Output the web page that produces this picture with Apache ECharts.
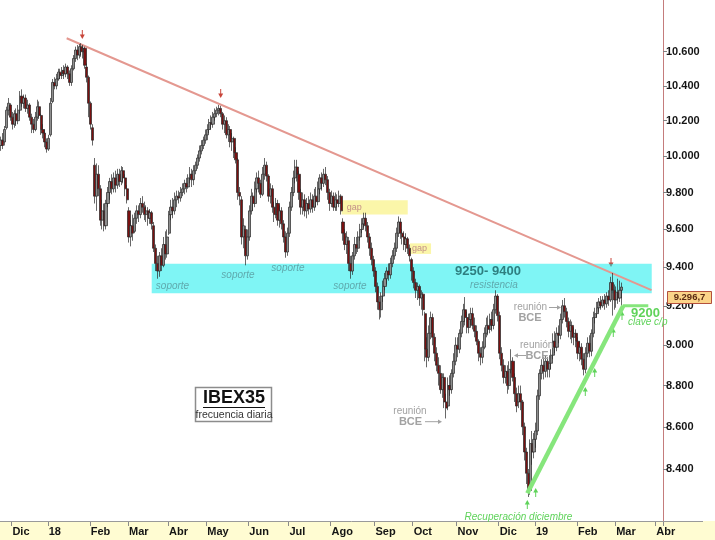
<!DOCTYPE html>
<html><head><meta charset="utf-8">
<script src="https://cdn.jsdelivr.net/npm/echarts@6/dist/echarts.min.js"></script>
<style>html,body{margin:0;padding:0;background:#fff}#c{width:715px;height:540px}</style>
</head><body><div id="c"></div>
<script>
// ---- data ----
const startDate = '2017-11-23';
const endDate = '2019-04-04';
const holidays = ['2017-12-25','2017-12-26','2018-01-01','2018-03-30','2018-04-02','2018-05-01','2018-12-25','2018-12-26','2019-01-01'];
const monthLabels = ['Dic','18','Feb','Mar','Abr','May','Jun','Jul','Ago','Sep','Oct','Nov','Dic','19','Feb','Mar','Abr'];
const yTicks = [8400,8600,8800,9000,9200,9400,9600,9800,10000,10200,10400,10600];
const lastPrice = 9296.7;
// daily candles: [open, close, low, high]
const ohlc = [
[10060,10090,10030,10110],[10090,10060,10040,10130],[10080,10150,10060,10170],[10160,10260,10150,10280],[10260,10300,10230,10330],[10290,10220,10200,10300],
[10220,10180,10150,10250],[10180,10240,10160,10260],[10240,10200,10170,10270],[10200,10260,10180,10290],[10260,10340,10240,10370],[10340,10300,10280,10380],
[10300,10330,10270,10350],[10330,10270,10250,10350],[10270,10290,10240,10320],[10290,10220,10200,10300],[10220,10180,10130,10240],[10180,10150,10130,10210],
[10150,10220,10140,10250],[10220,10280,10200,10320],[10280,10230,10210,10310],[10230,10150,10120,10240],[10150,10130,10100,10180],[10130,10080,10050,10150],
[10080,10040,10020,10100],
[10040,10100,10030,10120],[10120,10300,10110,10330],[10310,10420,10300,10440],[10420,10400,10380,10450],[10400,10440,10380,10470],[10440,10480,10430,10500],
[10480,10460,10440,10500],[10460,10490,10440,10510],[10490,10470,10440,10520],[10470,10510,10450,10530],[10510,10470,10440,10520],[10470,10420,10400,10490],
[10420,10500,10400,10520],[10500,10560,10490,10580],[10560,10610,10540,10630],[10610,10580,10550,10640],[10580,10630,10560,10645],[10630,10600,10570,10650],
[10600,10620,10560,10640],[10620,10520,10500,10630],[10510,10450,10420,10530],[10450,10300,10220,10460],
[10300,10180,10150,10310],[10160,10090,10060,10180],[9950,9780,9740,9990],[9780,9900,9700,9960],[9900,9820,9780,9950],[9820,9650,9620,9840],
[9650,9700,9600,9760],[9700,9620,9590,9740],[9620,9740,9600,9760],[9740,9800,9720,9830],[9800,9860,9760,9880],[9860,9820,9790,9900],
[9820,9880,9800,9910],[9880,9840,9800,9920],[9840,9900,9820,9930],[9900,9860,9830,9930],[9860,9920,9840,9945],[9920,9880,9850,9940],
[9880,9820,9780,9900],[9820,9760,9740,9840],
[9700,9560,9530,9720],[9560,9620,9510,9650],[9620,9580,9540,9680],[9590,9660,9580,9690],[9660,9700,9630,9730],[9700,9680,9640,9730],
[9680,9740,9660,9770],[9740,9720,9690,9780],[9720,9680,9650,9750],[9680,9700,9640,9730],[9700,9660,9620,9720],[9660,9690,9630,9710],
[9690,9630,9600,9700],[9620,9500,9480,9640],[9500,9420,9380,9520],[9420,9380,9340,9460],[9380,9460,9350,9480],[9460,9410,9380,9500],
[9410,9520,9400,9560],[9520,9470,9440,9590],[9470,9560,9450,9600],
[9580,9680,9570,9700],[9680,9720,9650,9760],[9720,9700,9660,9770],[9700,9760,9680,9800],[9760,9780,9720,9810],[9780,9770,9740,9810],
[9770,9800,9750,9830],[9800,9820,9780,9850],[9820,9850,9790,9870],[9850,9830,9800,9880],[9830,9880,9820,9900],[9880,9900,9850,9940],
[9900,9870,9830,9930],[9870,9920,9840,9950],[9920,9950,9900,9970],[9950,9990,9930,10010],[9990,10030,9970,10060],[10030,10060,10010,10090],
[10060,10090,10040,10110],[10090,10120,10070,10150],
[10120,10150,10090,10180],[10150,10190,10130,10210],[10190,10180,10150,10230],[10180,10220,10160,10250],[10220,10240,10200,10270],[10240,10260,10220,10280],
[10260,10270,10230,10290],[10270,10240,10220,10285],[10240,10180,10150,10250],[10180,10200,10130,10230],[10200,10120,10100,10220],[10120,10150,10080,10180],
[10150,10080,10050,10170],[10080,10100,10030,10130],[10100,10020,9990,10110],[10020,9980,9960,10050],[9980,9800,9760,9990],[9800,9780,9730,9830],
[9760,9560,9520,9780],[9560,9620,9500,9660],[9600,9460,9410,9620],[9460,9560,9440,9600],
[9560,9700,9540,9730],[9700,9780,9680,9820],[9780,9740,9700,9800],[9740,9820,9720,9860],[9820,9880,9800,9910],[9880,9850,9800,9920],
[9850,9790,9770,9870],[9790,9900,9780,9940],[9900,9950,9870,9990],[9950,9890,9860,9970],[9890,9780,9750,9900],[9780,9820,9740,9850],
[9820,9720,9690,9840],[9720,9680,9640,9750],[9680,9740,9660,9770],[9740,9650,9620,9760],[9650,9700,9610,9730],[9700,9630,9600,9720],
[9630,9560,9530,9650],[9560,9480,9450,9590],[9480,9580,9460,9610],
[9580,9720,9560,9750],[9720,9800,9700,9830],[9800,9880,9780,9920],[9880,9940,9850,9980],[9940,9900,9860,9980],[9900,9800,9760,9920],
[9800,9720,9680,9820],[9720,9760,9680,9800],[9760,9700,9670,9790],[9700,9740,9660,9770],[9740,9710,9680,9780],[9710,9760,9690,9800],
[9760,9720,9690,9790],[9720,9780,9700,9820],[9780,9750,9720,9830],[9750,9820,9730,9860],[9820,9880,9790,9900],[9880,9850,9810,9910],
[9850,9900,9830,9930],[9900,9870,9840,9940],[9870,9800,9760,9890],[9800,9740,9700,9820],
[9740,9780,9720,9810],[9780,9720,9700,9800],[9720,9760,9700,9800],[9760,9740,9700,9790],[9740,9780,9720,9810],[9780,9700,9680,9790],
[9640,9580,9540,9660],[9580,9520,9490,9600],[9520,9560,9470,9590],[9540,9420,9380,9560],[9420,9380,9340,9460],[9380,9460,9360,9480],
[9460,9520,9440,9560],[9520,9500,9470,9560],[9500,9560,9480,9590],[9560,9600,9540,9630],[9600,9630,9580,9660],[9630,9660,9610,9690],
[9660,9620,9590,9690],[9620,9560,9530,9640],[9560,9500,9460,9580],[9500,9440,9410,9530],[9440,9380,9350,9460],
[9380,9300,9270,9400],[9300,9220,9180,9320],[9220,9180,9130,9250],[9180,9250,9140,9270],[9250,9300,9220,9330],[9300,9340,9280,9370],
[9340,9380,9310,9400],[9380,9360,9330,9420],[9360,9420,9340,9450],[9420,9460,9400,9490],[9460,9500,9440,9530],[9500,9580,9480,9610],
[9580,9640,9560,9670],[9640,9580,9550,9660],[9580,9560,9520,9600],[9560,9520,9490,9590],[9520,9550,9480,9580],[9550,9500,9470,9560],
[9500,9460,9430,9520],[9440,9380,9330,9450],
[9380,9320,9290,9400],[9320,9280,9240,9340],[9280,9300,9230,9320],[9300,9240,9200,9310],[9240,9260,9180,9280],[9260,9180,9150,9270],
[9160,8980,8920,9170],[8980,8940,8890,9040],[8940,9060,8920,9100],[9060,9140,9030,9170],[9140,9040,9000,9160],[9040,8960,8920,9060],
[8960,8900,8870,8990],[8900,8860,8800,8940],[8860,8780,8760,8900],[8780,8840,8740,8860],[8840,8720,8690,8860],[8720,8690,8640,8760],
[8700,8800,8680,8840],[8800,8780,8750,8850],[8780,8860,8760,8880],[8860,8920,8840,8960],[8920,9000,8900,9040],
[9000,8980,8940,9040],[8980,9060,8960,9080],[9060,9120,9040,9150],[9120,9180,9090,9210],[9180,9140,9100,9245],[9140,9090,9060,9170],
[9090,9130,9060,9160],[9130,9160,9100,9190],[9160,9100,9080,9190],[9100,9070,9040,9140],[9070,9020,9000,9100],[9020,8960,8920,9030],
[8960,8940,8900,8990],[8940,8990,8910,9020],[8990,9060,8980,9090],[9060,9100,9040,9140],[9100,9080,9050,9150],[9080,9130,9060,9160],
[9130,9100,9070,9170],[9100,9180,9080,9210],[9180,9250,9160,9280],[9250,9150,9120,9260],
[9150,8960,8930,9170],[8960,8900,8870,8990],[8900,8840,8810,8930],[8840,8870,8810,8900],[8870,8800,8760,8900],[8800,8880,8780,8920],
[8880,8920,8860,8980],[8920,8840,8820,8940],[8840,8760,8720,8860],[8760,8700,8670,8790],[8720,8760,8690,8800],[8760,8720,8680,8800],
[8720,8600,8560,8730],[8600,8480,8440,8620],[8480,8380,8330,8500],[8380,8300,8270,8400],[8300,8520,8280,8540],[8520,8480,8420,8580],
[8480,8540,8450,8570],
[8540,8580,8500,8620],[8580,8750,8560,8780],[8750,8860,8730,8880],[8860,8900,8830,8930],[8900,8870,8830,8940],[8870,8920,8840,8950],
[8920,8880,8840,8940],[8880,8910,8840,8950],[8910,8950,8880,8980],[8950,9020,8930,9060],[9020,8990,8960,9070],[8990,9060,8970,9090],
[9060,9050,9010,9100],[9050,9130,9030,9160],[9130,9200,9110,9230],[9200,9170,9140,9240],[9170,9120,9090,9190],[9120,9070,9040,9140],
[9070,9100,9030,9130],[9100,9040,9010,9120],[9040,9060,9000,9090],[9060,9020,8990,9080],
[9020,8960,8930,9040],[8960,8990,8920,9020],[8990,8930,8900,9010],[8930,8880,8850,8960],[8880,8960,8860,8990],[8960,9010,8940,9040],
[9010,8970,8940,9050],[8970,9060,8945,9080],[9060,9140,9040,9170],[9140,9160,9110,9190],[9160,9190,9140,9220],[9190,9220,9170,9240],
[9220,9200,9180,9250],[9200,9230,9190,9250],[9230,9210,9180,9260],[9210,9250,9190,9270],[9250,9230,9200,9280],[9230,9320,9220,9350],
[9320,9280,9150,9370],[9280,9230,9180,9310],
[9230,9270,9190,9300],[9270,9240,9210,9340],[9240,9280,9220,9330],[9280,9296.7,9200,9320]
];

// ---- categories (trading days) ----
const categories = [];
for (let d = new Date(startDate + 'T12:00:00Z'); d <= new Date(endDate + 'T12:00:00Z'); d.setUTCDate(d.getUTCDate() + 1)) {
  const wd = d.getUTCDay(); const s = d.toISOString().slice(0, 10);
  if (wd === 0 || wd === 6 || holidays.indexOf(s) >= 0) continue;
  categories.push(s);
}
const N = categories.length;
const monthStart = new Set(); const labelByDate = {};
let m = 0;
for (let i = 1; i < N; i++) {
  if (categories[i].slice(0, 7) !== categories[i - 1].slice(0, 7)) {
    monthStart.add(i); labelByDate[categories[i]] = monthLabels[m++] || '';
  }
}

const FONT = '"Liberation Sans", Arial, Helvetica, sans-serif';
const fmtThousands = v => String(Math.round(v)).replace(/\B(?=(\d{3})+(?!\d))/g, '.');

function txt(x, y, text, font, fill, align) {
  return { type: 'text', x: x, y: y, z: 20, silent: true,
    style: { text: text, font: font, fill: fill, align: align || 'center', verticalAlign: 'middle' } };
}
function arrowV(x, tipY, dir, color) { // dir 1 = down, -1 = up
  const tail = tipY - dir * 9;
  return { type: 'group', z: 20, silent: true, children: [
    { type: 'line', shape: { x1: x, y1: tail, x2: x, y2: tipY - dir * 3 }, style: { stroke: color, lineWidth: 1 } },
    { type: 'polygon', shape: { points: [[x - 2.5, tipY - dir * 4.5], [x + 2.5, tipY - dir * 4.5], [x, tipY]] }, style: { fill: color } }
  ] };
}
function arrowH(x1, x2, y, color) { // head at x2
  const d = x2 > x1 ? 1 : -1;
  return { type: 'group', z: 20, silent: true, children: [
    { type: 'line', shape: { x1: x1, y1: y, x2: x2 - d * 2, y2: y }, style: { stroke: color, lineWidth: 1 } },
    { type: 'polygon', shape: { points: [[x2 - d * 4, y - 2.2], [x2 - d * 4, y + 2.2], [x2, y]] }, style: { fill: color } }
  ] };
}

const chart = echarts.init(document.getElementById('c'));
const grey = '#a2a2a2', green = '#5fd35a', soporteC = '#5fa9ad', redA = '#c8453a';
const it = 'italic 10px ' + FONT;

const option = {
  animation: false,
  backgroundColor: '#ffffff',
  grid: { left: 0, right: 52, top: 0, bottom: 19 },
  xAxis: [
    { type: 'category', data: categories, boundaryGap: true,
      axisLine: { show: false },
      axisTick: { show: true, interval: i => monthStart.has(i), length: 5, lineStyle: { color: '#8a8a8a' } },
      axisLabel: { interval: i => monthStart.has(i), formatter: v => labelByDate[v] || '', align: 'left', margin: 5,
        fontSize: 11, fontWeight: 'bold', color: '#151515', fontFamily: FONT },
      splitLine: { show: false } },
    { type: 'value', min: -0.5, max: N - 0.5, show: false }
  ],
  yAxis: [{ type: 'log', logBase: 10, min: 8160, max: 10910, position: 'right',
    axisLine: { show: true, onZero: false, lineStyle: { color: '#c47c7c', width: 1 } },
    axisTick: { show: true, customValues: yTicks, length: 4, lineStyle: { color: '#808080' } },
    axisLabel: { customValues: yTicks, formatter: fmtThousands, fontSize: 11, fontWeight: 'bold', color: '#151515', margin: 3, fontFamily: FONT },
    splitLine: { show: false } }],
  series: [
    { // red resistance trendline (under the band)
      type: 'line', xAxisIndex: 1, yAxisIndex: 0, z: 1, symbol: 'none', silent: true,
      data: [[34.4, 10680], [340.5, 9281]],
      lineStyle: { color: '#e49890', width: 2 } },
    { // zones
      type: 'line', xAxisIndex: 1, yAxisIndex: 0, z: 2, symbol: 'none', silent: true,
      data: [[78.9, 9264], [340.6, 9264]], lineStyle: { opacity: 0 },
      markArea: { silent: true, data: [
        [{ coord: [78.9, 9264], itemStyle: { color: 'rgba(0,236,236,0.5)' } }, { coord: [340.6, 9418] }],
        [{ coord: [178.3, 9680], itemStyle: { color: 'rgba(250,243,140,0.75)' },
           label: { show: true, position: 'insideLeft', formatter: 'gap', color: '#c39088', fontSize: 9, fontFamily: FONT, distance: 5 } },
         { coord: [212.9, 9757] }],
        [{ coord: [214.1, 9470], itemStyle: { color: 'rgba(250,243,140,0.75)' },
           label: { show: true, position: 'insideLeft', formatter: 'gap', color: '#c39088', fontSize: 9, fontFamily: FONT, distance: 2 } },
         { coord: [225.1, 9526] }]
      ] } },
    { type: 'candlestick', xAxisIndex: 0, yAxisIndex: 0, z: 3, data: ohlc, barWidth: 2.6,
      itemStyle: { color: '#8e8e8e', color0: '#7a1010', borderColor: '#262626', borderColor0: '#262626', borderWidth: 0.7 } },
    { type: 'line', xAxisIndex: 1, yAxisIndex: 0, z: 4, symbol: 'none', silent: true,
      data: [[275.5, 8287], [325.7, 9200]], lineStyle: { color: '#86e67c', width: 4.5 } },
    { type: 'line', xAxisIndex: 1, yAxisIndex: 0, z: 4, symbol: 'none', silent: true,
      data: [[325.4, 9200], [338.8, 9200]], lineStyle: { color: '#86e67c', width: 3 } }
  ],
  graphic: [
    { type: 'rect', z: -1, silent: true, shape: { x: 0, y: 521, width: 715, height: 19 }, style: { fill: '#fffcd2' } },
    { type: 'line', z: 5, silent: true, shape: { x1: 0, y1: 521.5, x2: 703, y2: 521.5 }, style: { stroke: '#9a9a9a', lineWidth: 1 } },
    // IBEX box
    { type: 'rect', z: 20, silent: true, shape: { x: 195.5, y: 387.5, width: 76, height: 34 }, style: { fill: '#fff', stroke: '#8c8c8c', lineWidth: 1.5 } },
    txt(234, 398.5, 'IBEX35', 'bold 18px ' + FONT, '#111'),
    { type: 'line', z: 21, silent: true, shape: { x1: 203, y1: 407.5, x2: 265, y2: 407.5 }, style: { stroke: '#111', lineWidth: 1.2 } },
    txt(234, 415.5, 'frecuencia diaria', '10.5px ' + FONT, '#333'),
    // soporte / resistencia
    txt(172.5, 286.7, 'soporte', it, soporteC),
    txt(238, 275, 'soporte', it, soporteC),
    txt(288, 268, 'soporte', it, soporteC),
    txt(350, 286, 'soporte', it, soporteC),
    txt(488, 271.7, '9250- 9400', 'bold 13px ' + FONT, '#2e7f80'),
    txt(494, 285, 'resistencia', it, soporteC),
    // reunión BCE labels
    txt(530.5, 307.3, 'reunión', '10px ' + FONT, grey),
    arrowH(549, 561, 307.5, grey),
    txt(530, 317.8, 'BCE', 'bold 11px ' + FONT, grey),
    txt(536.7, 345.7, 'reunión', '10px ' + FONT, grey),
    arrowH(526, 514, 355.5, grey),
    txt(537, 355.5, 'BCE', 'bold 11px ' + FONT, grey),
    txt(410, 411, 'reunión', '10px ' + FONT, grey),
    txt(410.5, 421.7, 'BCE', 'bold 11px ' + FONT, grey),
    arrowH(425, 442, 421.7, grey),
    // green annotations
    txt(518.5, 517, 'Recuperación diciembre', it, green),
    txt(631, 313.5, '9200', 'bold 13px ' + FONT, green, 'left'),
    txt(628, 322.5, 'clave c/p', it, green, 'left'),
    arrowV(527.3, 500, -1, green),
    arrowV(535.7, 488, -1, green),
    arrowV(585.3, 387, -1, green),
    arrowV(594.7, 368, -1, green),
    arrowV(613.3, 328, -1, green),
    arrowV(622, 311, -1, green),
    // red peak arrows
    arrowV(82.3, 39, 1, redA),
    arrowV(220.7, 98, 1, redA),
    arrowV(611, 267, 1, redA),
    // last price box
    { type: 'rect', z: 20, silent: true, shape: { x: 667.5, y: 291.5, width: 44, height: 12 }, style: { fill: '#fbd489', stroke: '#b3503d', lineWidth: 1 } },
    txt(689.5, 297.8, fmtThousands(Math.floor(lastPrice)) + ',' + Math.round((lastPrice % 1) * 10), 'bold 9.5px ' + FONT, '#5a2a12')
  ]
};
chart.setOption(option);
</script>
</body></html>
